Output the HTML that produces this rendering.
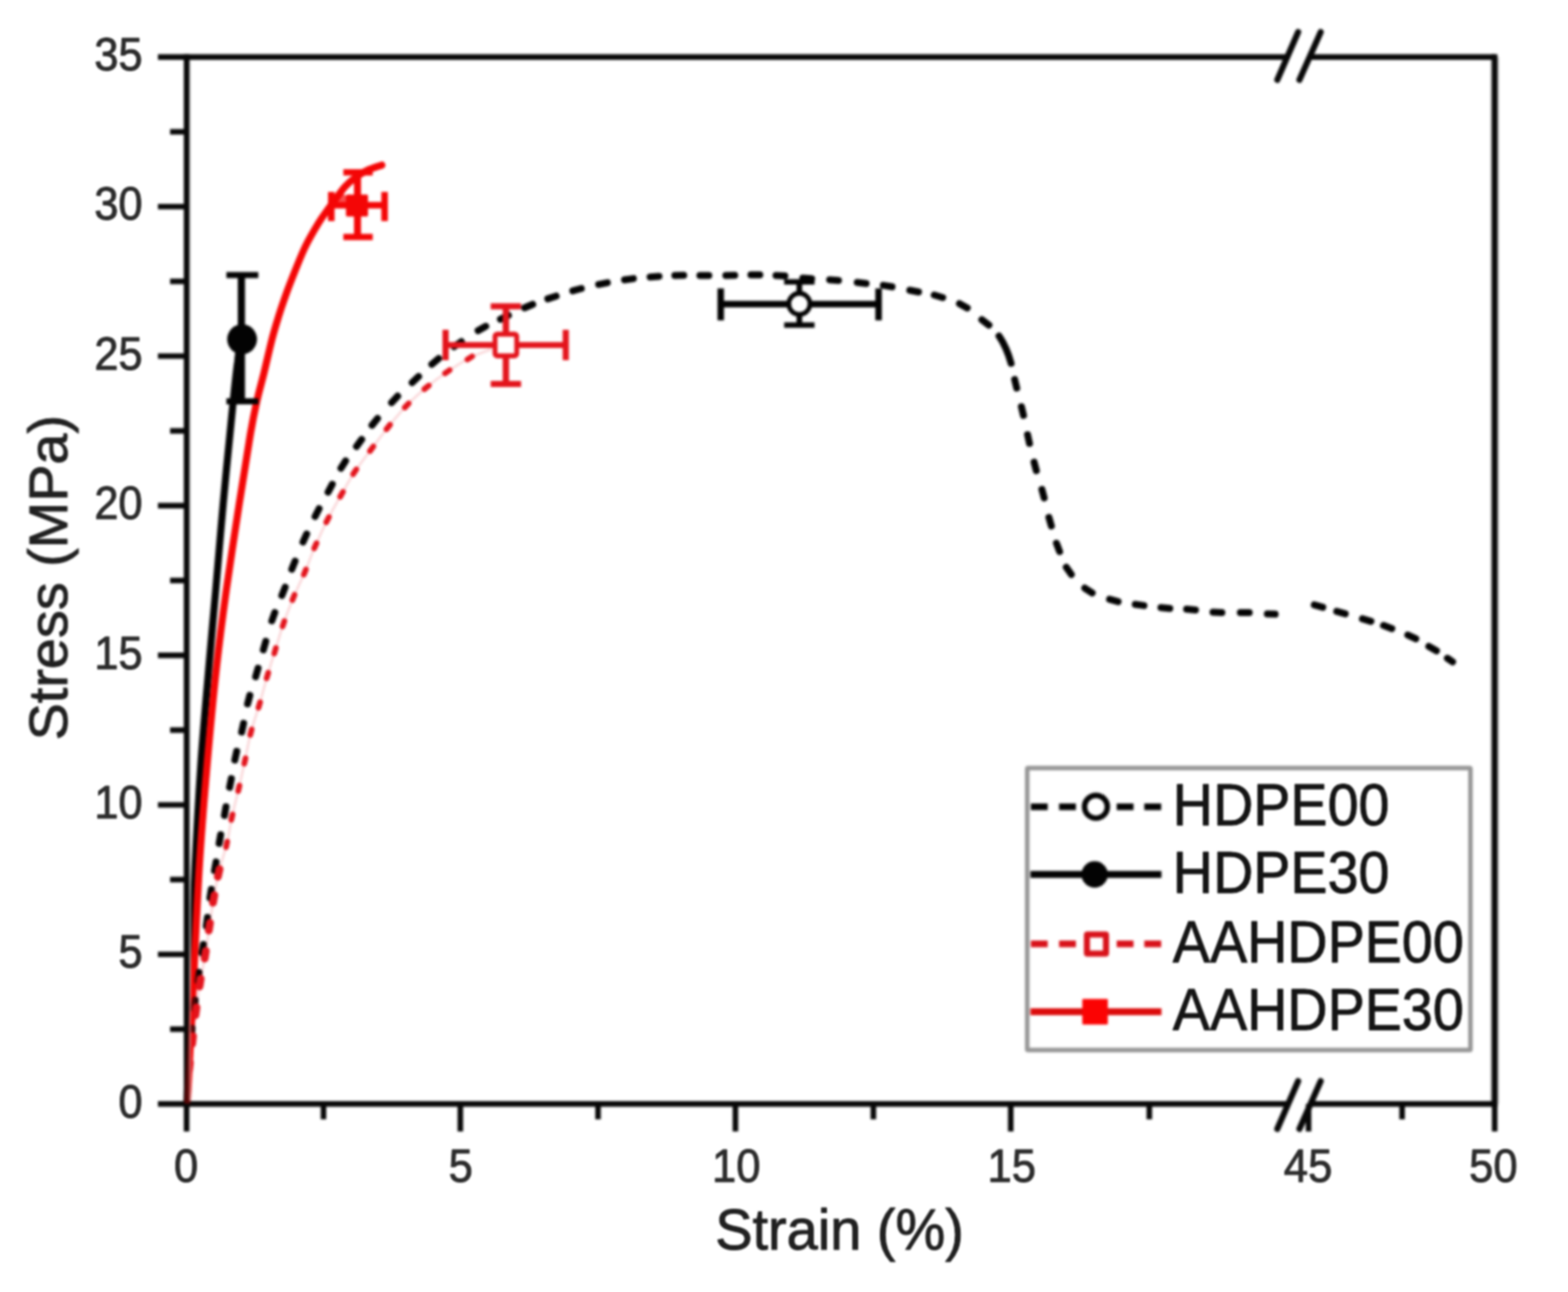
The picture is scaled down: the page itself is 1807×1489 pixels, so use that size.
<!DOCTYPE html>
<html lang="en">
<head>
<meta charset="utf-8">
<title>Stress–strain curves</title>
<style>
html, body { margin: 0; padding: 0; background: #ffffff; }
body { width: 1807px; height: 1489px; overflow: hidden; font-family: "Liberation Sans", Arial, sans-serif; }
svg { display: block; }
.soft { filter: blur(1.6px); }
.tx { filter: blur(1.0px); }
</style>
</head>
<body>
<svg width="1807" height="1489" viewBox="0 0 1807 1489" role="img" aria-label="Stress versus strain chart">
<g class="soft">
<rect x="0" y="0" width="1807" height="1489" fill="#ffffff"/>
<path d="M215.5,1272.0 C216.2,1251.7 218.0,1195.3 219.6,1150.0 C221.2,1104.7 222.8,1044.7 224.8,1000.0 C226.8,955.3 228.8,920.3 231.4,882.0 C234.0,843.7 237.8,803.4 240.6,770.0 C243.4,736.6 245.7,713.0 248.5,681.5 C251.3,650.0 254.1,614.3 257.2,580.7 C260.3,547.1 264.3,506.8 267.0,480.0 C269.7,453.2 271.5,434.8 273.5,420.0 C275.5,405.2 278.1,395.8 279.0,391.0" stroke="#030303" stroke-width="8.2" fill="none" stroke-linecap="round"/>
<path d="M215.8,1272.0 C217.0,1249.2 220.5,1180.3 222.8,1135.0 C225.1,1089.7 227.0,1042.2 229.6,1000.0 C232.2,957.8 235.3,920.3 238.6,882.0 C241.9,843.7 245.7,803.4 249.4,770.0 C253.1,736.6 256.2,713.0 260.6,681.5 C265.0,650.0 271.0,611.0 275.7,580.7 C280.4,550.5 285.2,519.7 288.6,500.0 C292.0,480.3 293.4,474.1 296.0,462.4 C298.6,450.6 301.4,441.4 304.3,429.5 C307.2,417.6 310.6,402.1 313.4,391.2 C316.2,380.3 318.4,373.3 321.2,364.3 C324.0,355.3 327.1,346.3 330.3,337.4 C333.6,328.4 337.1,319.6 340.7,310.6 C344.3,301.7 347.7,292.6 352.1,283.7 C356.5,274.8 362.8,264.1 367.2,256.9 C371.6,249.7 375.1,245.3 378.4,240.7 C381.7,236.0 383.7,233.3 387.0,229.0 C390.3,224.7 394.3,218.8 398.0,214.8 C401.7,210.8 405.3,207.8 409.4,204.8 C413.5,201.8 417.5,199.0 422.6,196.6 C427.7,194.2 437.1,191.4 440.0,190.3" stroke="#f40606" stroke-width="8.2" fill="none" stroke-linecap="round"/>
<g stroke="#030303" stroke-width="8.0" stroke-linecap="round" fill="none"><line x1="220.4" y1="1195.1" x2="221.4" y2="1184.9"/><line x1="223.8" y1="1162.8" x2="225.0" y2="1152.6"/><line x1="228.0" y1="1130.6" x2="229.4" y2="1120.6"/><line x1="232.8" y1="1098.5" x2="234.4" y2="1088.5"/><line x1="237.7" y1="1067.3" x2="239.1" y2="1057.3"/><line x1="241.9" y1="1035.0" x2="243.5" y2="1025.0"/><line x1="247.2" y1="1003.4" x2="249.0" y2="993.4"/><line x1="252.5" y1="972.0" x2="254.3" y2="962.0"/><line x1="258.6" y1="939.7" x2="260.4" y2="929.7"/><line x1="264.6" y1="907.4" x2="266.6" y2="897.4"/><line x1="270.6" y1="875.9" x2="272.8" y2="865.9"/><line x1="278.5" y1="843.6" x2="280.7" y2="833.6"/><line x1="285.3" y1="811.2" x2="287.9" y2="801.4"/><line x1="294.6" y1="779.9" x2="297.4" y2="770.1"/><line x1="303.5" y1="748.9" x2="306.3" y2="739.1"/><line x1="313.3" y1="715.5" x2="316.7" y2="705.9"/><line x1="324.8" y1="686.3" x2="328.6" y2="676.7"/><line x1="336.3" y1="656.0" x2="340.1" y2="646.6"/><line x1="349.2" y1="624.7" x2="353.4" y2="615.3"/><line x1="363.1" y1="595.3" x2="367.7" y2="586.3"/><line x1="378.1" y1="567.1" x2="382.9" y2="558.1"/><line x1="392.9" y1="539.7" x2="398.3" y2="531.1"/><line x1="410.8" y1="514.6" x2="416.8" y2="506.4"/><line x1="428.7" y1="490.1" x2="435.1" y2="482.3"/><line x1="451.3" y1="464.0" x2="458.3" y2="456.6"/><line x1="475.0" y1="440.9" x2="482.4" y2="433.9"/><line x1="497.7" y1="419.8" x2="505.5" y2="413.2"/><line x1="523.3" y1="399.5" x2="531.7" y2="393.7"/><line x1="551.0" y1="381.1" x2="559.8" y2="376.1"/><line x1="576.7" y1="367.9" x2="585.9" y2="363.5"/><line x1="604.5" y1="354.7" x2="613.9" y2="350.7"/><line x1="631.3" y1="344.4" x2="640.9" y2="341.2"/><line x1="660.1" y1="335.1" x2="669.9" y2="332.5"/><line x1="689.9" y1="327.8" x2="699.9" y2="325.8"/><line x1="719.7" y1="322.5" x2="729.9" y2="321.1"/><line x1="749.2" y1="319.2" x2="759.4" y2="318.4"/><line x1="777.7" y1="317.5" x2="787.9" y2="317.3"/><line x1="806.6" y1="317.4" x2="816.8" y2="317.4"/><line x1="836.5" y1="317.5" x2="846.7" y2="317.3"/><line x1="865.4" y1="316.8" x2="875.6" y2="316.8"/><line x1="894.3" y1="317.5" x2="904.5" y2="318.1"/><line x1="925.2" y1="320.4" x2="935.4" y2="321.2"/><line x1="956.1" y1="322.4" x2="966.3" y2="323.2"/><line x1="987.9" y1="325.5" x2="998.1" y2="326.7"/><line x1="1018.0" y1="328.9" x2="1028.0" y2="330.5"/><line x1="1048.5" y1="334.5" x2="1058.5" y2="336.5"/><line x1="1076.6" y1="340.0" x2="1086.4" y2="343.0"/><line x1="1105.7" y1="349.9" x2="1114.7" y2="354.9"/><line x1="1131.5" y1="368.5" x2="1139.7" y2="374.7"/></g>
<path d="M1151.3,387.3 Q1160,400 1165.2,418.7" stroke="#030303" stroke-width="8.0" stroke-linecap="round" fill="none"/>
<g stroke="#030303" stroke-width="8.0" stroke-linecap="round" fill="none"><line x1="1169.3" y1="437.4" x2="1171.7" y2="447.2"/><line x1="1177.1" y1="468.7" x2="1179.5" y2="478.7"/><line x1="1184.2" y1="501.0" x2="1186.4" y2="511.0"/><line x1="1191.7" y1="532.6" x2="1194.3" y2="542.4"/><line x1="1200.7" y1="564.0" x2="1203.3" y2="573.8"/><line x1="1208.8" y1="596.3" x2="1211.6" y2="606.1"/><line x1="1217.5" y1="626.1" x2="1221.1" y2="635.7"/><line x1="1228.8" y1="653.7" x2="1234.6" y2="662.1"/><line x1="1250.1" y1="677.8" x2="1258.7" y2="683.4"/><line x1="1278.7" y1="690.6" x2="1288.5" y2="693.4"/><line x1="1308.3" y1="696.5" x2="1318.3" y2="697.9"/><line x1="1337.9" y1="700.2" x2="1348.1" y2="701.2"/><line x1="1367.5" y1="702.1" x2="1377.7" y2="702.9"/><line x1="1397.9" y1="705.5" x2="1408.1" y2="706.1"/><line x1="1429.4" y1="706.0" x2="1439.6" y2="706.0"/></g>
<line x1="1460.5" y1="707.6" x2="1469.5" y2="707.8" stroke="#030303" stroke-width="8.0" stroke-linecap="round"/>
<g stroke="#030303" stroke-width="8.0" stroke-linecap="round" fill="none"><line x1="1514.6" y1="697.1" x2="1524.4" y2="699.9"/><line x1="1540.5" y1="704.6" x2="1550.3" y2="707.4"/><line x1="1570.1" y1="713.1" x2="1579.9" y2="716.1"/><line x1="1594.4" y1="720.8" x2="1604.0" y2="724.4"/><line x1="1622.4" y1="731.8" x2="1631.6" y2="736.2"/><line x1="1646.6" y1="745.0" x2="1655.4" y2="750.0"/></g>
<line x1="1668" y1="758.6" x2="1674" y2="762.8" stroke="#030303" stroke-width="8.0" stroke-linecap="round"/>
<path d="M218.3,1229.0 C218.9,1223.9 220.7,1209.2 221.9,1198.6 C223.2,1188.0 224.4,1176.5 225.8,1165.5 C227.2,1154.5 228.8,1143.3 230.6,1132.4 C232.4,1121.5 234.7,1111.0 236.5,1100.3 C238.3,1089.6 239.7,1078.7 241.3,1068.0 C242.9,1057.3 244.4,1046.3 246.2,1036.0 C248.0,1025.7 249.5,1016.5 252.0,1006.0 C254.5,995.5 258.6,983.8 261.2,973.1 C263.8,962.4 265.0,952.5 267.3,941.7 C269.6,930.9 272.7,919.3 275.2,908.5 C277.7,897.7 279.9,887.8 282.2,877.0 C284.5,866.2 286.4,854.6 289.2,843.8 C292.0,833.0 295.6,823.3 298.8,812.4 C302.0,801.5 305.2,789.0 308.2,778.6 C311.2,768.2 313.9,760.0 317.0,750.0 C320.1,740.0 323.2,729.0 326.7,718.8 C330.2,708.5 334.1,698.4 338.2,688.5 C342.3,678.6 347.1,669.2 351.3,659.3 C355.5,649.4 359.0,639.1 363.4,629.0 C367.8,618.9 372.5,608.8 377.5,598.9 C382.5,589.0 388.4,578.9 393.6,569.7 C398.8,560.5 403.0,552.5 408.8,543.7 C414.6,535.0 421.9,525.8 428.3,517.2 C434.7,508.6 440.7,500.4 447.4,492.1 C454.1,483.8 461.3,474.9 468.7,467.3 C476.1,459.7 483.8,452.9 491.6,446.4 C499.4,439.9 507.2,434.0 515.5,428.4 C523.8,422.8 533.0,416.8 541.4,412.5 C549.8,408.2 561.9,404.2 566.0,402.5" stroke="#e3141c" stroke-opacity="0.16" stroke-width="3" fill="none"/>
<g stroke="#e3141c" stroke-width="6.6" stroke-linecap="round" fill="none"><line x1="260.6" y1="976.2" x2="261.8" y2="970.0"/><line x1="266.6" y1="944.8" x2="268.0" y2="938.6"/><line x1="274.5" y1="911.6" x2="275.9" y2="905.4"/><line x1="281.5" y1="880.1" x2="282.9" y2="873.9"/><line x1="288.4" y1="846.9" x2="290.0" y2="840.7"/><line x1="297.9" y1="815.5" x2="299.7" y2="809.3"/><line x1="307.3" y1="781.7" x2="309.1" y2="775.5"/><line x1="316.1" y1="753.1" x2="317.9" y2="746.9"/><line x1="325.7" y1="721.8" x2="327.7" y2="715.8"/><line x1="337.0" y1="691.5" x2="339.4" y2="685.5"/><line x1="350.1" y1="662.2" x2="352.5" y2="656.4"/><line x1="362.1" y1="631.9" x2="364.7" y2="626.1"/><line x1="376.0" y1="601.8" x2="379.0" y2="596.0"/><line x1="392.0" y1="572.5" x2="395.2" y2="566.9"/><line x1="407.0" y1="546.4" x2="410.6" y2="541.0"/><line x1="426.4" y1="519.8" x2="430.2" y2="514.6"/><line x1="445.4" y1="494.6" x2="449.4" y2="489.6"/><line x1="466.5" y1="469.6" x2="470.9" y2="465.0"/><line x1="489.1" y1="448.4" x2="494.1" y2="444.4"/><line x1="512.9" y1="430.2" x2="518.1" y2="426.6"/><line x1="538.7" y1="414.2" x2="544.1" y2="410.8"/></g>
<g stroke="#e3141c" stroke-width="9.0" stroke-linecap="round" fill="none"><line x1="217.8" y1="1233.5" x2="218.8" y2="1224.5"/><line x1="221.4" y1="1203.1" x2="222.4" y2="1194.1"/><line x1="225.2" y1="1170.0" x2="226.4" y2="1161.0"/><line x1="229.9" y1="1136.8" x2="231.3" y2="1128.0"/><line x1="235.8" y1="1104.7" x2="237.2" y2="1095.9"/><line x1="240.6" y1="1072.4" x2="242.0" y2="1063.6"/><line x1="245.4" y1="1040.4" x2="247.0" y2="1031.6"/><line x1="251.0" y1="1010.4" x2="253.0" y2="1001.6"/></g>
<path d="M266.5,464 L281.5,464 L281.5,405 L271,405 Z" fill="#030303"/>
<line x1="278.2" y1="317.0" x2="278.2" y2="462.5" stroke="#030303" stroke-width="8.299999999999999" stroke-linecap="butt"/><line x1="260.90000000000003" y1="317.0" x2="297.7" y2="317.0" stroke="#030303" stroke-width="6.9" stroke-linecap="butt"/><line x1="260.90000000000003" y1="462.5" x2="297.7" y2="462.5" stroke="#030303" stroke-width="6.9" stroke-linecap="butt"/>
<circle cx="279" cy="391" r="17.2" fill="#030303"/>
<path d="M384,234 L399,234 L399,226 L393,221 L384,229 Z" fill="#f40606" fill-opacity="0.7"/>
<line x1="381.8" y1="236.6" x2="443.2" y2="236.6" stroke="#f40606" stroke-width="7.5" stroke-linecap="butt"/><line x1="381.8" y1="221.2" x2="381.8" y2="254.8" stroke="#f40606" stroke-width="7.5" stroke-linecap="butt"/><line x1="443.2" y1="221.2" x2="443.2" y2="254.8" stroke="#f40606" stroke-width="7.5" stroke-linecap="butt"/>
<line x1="412.0" y1="198.6" x2="412.0" y2="273.2" stroke="#f40606" stroke-width="8.1" stroke-linecap="butt"/><line x1="395.70000000000005" y1="198.6" x2="429.5" y2="198.6" stroke="#f40606" stroke-width="7.3" stroke-linecap="butt"/><line x1="395.70000000000005" y1="273.2" x2="429.5" y2="273.2" stroke="#f40606" stroke-width="7.3" stroke-linecap="butt"/>
<rect x="398.7" y="224.2" width="25.4" height="25.4" rx="1.5" fill="#f40606"/>
<line x1="513.5" y1="397.6" x2="652" y2="397.6" stroke="#e3141c" stroke-width="6.9" stroke-linecap="butt"/><line x1="513.5" y1="380.1" x2="513.5" y2="415.1" stroke="#e3141c" stroke-width="7.1000000000000005" stroke-linecap="butt"/><line x1="652" y1="380.1" x2="652" y2="415.1" stroke="#e3141c" stroke-width="7.1000000000000005" stroke-linecap="butt"/>
<line x1="583" y1="353" x2="583" y2="442.5" stroke="#e3141c" stroke-width="7.3" stroke-linecap="butt"/><line x1="565.5" y1="353" x2="600.5" y2="353" stroke="#e3141c" stroke-width="6.9" stroke-linecap="butt"/><line x1="565.5" y1="442.5" x2="600.5" y2="442.5" stroke="#e3141c" stroke-width="6.9" stroke-linecap="butt"/>
<rect x="570.5" y="385.1" width="25" height="25" rx="2.5" fill="#ffffff" stroke="#e3141c" stroke-width="5.6"/>
<line x1="830.6" y1="350.4" x2="1012.5" y2="350.4" stroke="#030303" stroke-width="7.5" stroke-linecap="butt"/><line x1="830.6" y1="332.40000000000003" x2="830.6" y2="369.2" stroke="#030303" stroke-width="7.5" stroke-linecap="butt"/><line x1="1012.5" y1="332.40000000000003" x2="1012.5" y2="369.2" stroke="#030303" stroke-width="7.5" stroke-linecap="butt"/>
<line x1="921.2" y1="324.9" x2="921.2" y2="374.6" stroke="#030303" stroke-width="6.5" stroke-linecap="butt"/><line x1="903.7" y1="324.9" x2="938.7" y2="324.9" stroke="#030303" stroke-width="6.3" stroke-linecap="butt"/><line x1="903.7" y1="374.6" x2="938.7" y2="374.6" stroke="#030303" stroke-width="6.3" stroke-linecap="butt"/>
<circle cx="921.2" cy="350.2" r="12.2" fill="#ffffff" stroke="#030303" stroke-width="5.4"/>
<line x1="1722.5" y1="65.7" x2="1722.5" y2="1272.3" stroke="#b8b8b8" stroke-width="9.6"/>
<line x1="217.2" y1="65.7" x2="217.2" y2="1272.3" stroke="#d0d0d0" stroke-width="5"/>
<g stroke="#080808" stroke-width="6.4" fill="none" stroke-linecap="butt">
<line x1="215.0" y1="62.5" x2="215.0" y2="1275.5"/>
<line x1="1722.5" y1="62.5" x2="1722.5" y2="1275.5"/>
<line x1="215.0" y1="65.7" x2="1483" y2="65.7"/>
<line x1="1509" y1="65.7" x2="1722.5" y2="65.7"/>
<line x1="215.0" y1="1272.3" x2="1483" y2="1272.3"/>
<line x1="1509" y1="1272.3" x2="1722.5" y2="1272.3"/>
<line x1="182" y1="1272.3" x2="215.0" y2="1272.3"/>
<line x1="196" y1="1186.1" x2="215.0" y2="1186.1"/>
<line x1="182" y1="1099.9" x2="215.0" y2="1099.9"/>
<line x1="196" y1="1013.7" x2="215.0" y2="1013.7"/>
<line x1="182" y1="927.6" x2="215.0" y2="927.6"/>
<line x1="196" y1="841.4" x2="215.0" y2="841.4"/>
<line x1="182" y1="755.2" x2="215.0" y2="755.2"/>
<line x1="196" y1="669.0" x2="215.0" y2="669.0"/>
<line x1="182" y1="582.8" x2="215.0" y2="582.8"/>
<line x1="196" y1="496.6" x2="215.0" y2="496.6"/>
<line x1="182" y1="410.4" x2="215.0" y2="410.4"/>
<line x1="196" y1="324.3" x2="215.0" y2="324.3"/>
<line x1="182" y1="238.1" x2="215.0" y2="238.1"/>
<line x1="196" y1="151.9" x2="215.0" y2="151.9"/>
<line x1="182" y1="65.7" x2="215.0" y2="65.7"/>
<line x1="215" y1="1272.3" x2="215" y2="1304"/>
<line x1="530.5" y1="1272.3" x2="530.5" y2="1304"/>
<line x1="847.5" y1="1272.3" x2="847.5" y2="1304"/>
<line x1="1164.8" y1="1272.3" x2="1164.8" y2="1304"/>
<line x1="1508" y1="1272.3" x2="1508" y2="1304"/>
<line x1="1722.5" y1="1272.3" x2="1722.5" y2="1304"/>
<line x1="372.8" y1="1272.3" x2="372.8" y2="1290"/>
<line x1="689.2" y1="1272.3" x2="689.2" y2="1290"/>
<line x1="1006.5" y1="1272.3" x2="1006.5" y2="1290"/>
<line x1="1324.5" y1="1272.3" x2="1324.5" y2="1290"/>
<line x1="1615.8" y1="1272.3" x2="1615.8" y2="1290"/>
</g>
<g stroke="#080808" stroke-width="7" stroke-linecap="round">
<line x1="1472" y1="92" x2="1496" y2="37"/>
<line x1="1497.5" y1="92" x2="1522" y2="37"/>
<line x1="1472" y1="1301" x2="1496" y2="1246"/>
<line x1="1497.5" y1="1301" x2="1522" y2="1246"/>
</g>
<path d="M215.8,1272.0 C217.0,1249.2 220.5,1180.3 222.8,1135.0 C225.1,1089.7 227.0,1042.2 229.6,1000.0 C232.2,957.8 237.1,901.7 238.6,882.0" stroke="#f40606" stroke-opacity="0.33" stroke-width="7" fill="none" stroke-linecap="butt"/>
<rect x="1183.8" y="885.2" width="510.8" height="325" rx="1" fill="#ffffff" stroke="#969696" stroke-width="5.2"/>
<line x1="1188.0" y1="929.8" x2="1207.4" y2="929.8" stroke="#030303" stroke-width="7.7" stroke-linecap="butt"/>
<line x1="1220.5" y1="929.8" x2="1239.9" y2="929.8" stroke="#030303" stroke-width="7.7" stroke-linecap="butt"/>
<line x1="1286.9" y1="929.8" x2="1306.3" y2="929.8" stroke="#030303" stroke-width="7.7" stroke-linecap="butt"/>
<line x1="1318.7" y1="929.8" x2="1338.2" y2="929.8" stroke="#030303" stroke-width="7.7" stroke-linecap="butt"/>
<circle cx="1263" cy="929.8" r="13.2" fill="#ffffff" stroke="#030303" stroke-width="6.2"/>
<line x1="1187.5" y1="1007.8" x2="1338.5" y2="1007.8" stroke="#030303" stroke-width="7.9" stroke-linecap="butt"/>
<circle cx="1261.5" cy="1007.8" r="15.2" fill="#030303"/>
<line x1="1188.0" y1="1087.8" x2="1207.4" y2="1087.8" stroke="#d8121a" stroke-width="7.7" stroke-linecap="butt"/>
<line x1="1220.5" y1="1087.8" x2="1239.9" y2="1087.8" stroke="#d8121a" stroke-width="7.7" stroke-linecap="butt"/>
<line x1="1286.9" y1="1087.8" x2="1306.3" y2="1087.8" stroke="#d8121a" stroke-width="7.7" stroke-linecap="butt"/>
<line x1="1318.7" y1="1087.8" x2="1338.2" y2="1087.8" stroke="#d8121a" stroke-width="7.7" stroke-linecap="butt"/>
<rect x="1252.6" y="1077.1" width="22" height="22" rx="0.6" fill="#ffffff" stroke="#d8121a" stroke-width="7"/>
<line x1="1187.5" y1="1166.0" x2="1338.5" y2="1166.0" stroke="#dc0c0c" stroke-width="8.1" stroke-linecap="butt"/>
<rect x="1247.3" y="1151.3" width="29.4" height="29.4" rx="1" fill="#fb0303"/>
</g>
<g font-family="'Liberation Sans', Arial, sans-serif" font-size="51.5" class="tx" fill="#2c2c2c" stroke="#2c2c2c" stroke-width="1.0" stroke-linejoin="round">
<text transform="translate(164.3,1287.6) scale(0.97,1.035)" text-anchor="end">0</text>
<text transform="translate(164.3,1115.2) scale(0.97,1.035)" text-anchor="end">5</text>
<text transform="translate(164.3,942.9) scale(0.97,1.035)" text-anchor="end">10</text>
<text transform="translate(164.3,770.5) scale(0.97,1.035)" text-anchor="end">15</text>
<text transform="translate(164.3,598.1) scale(0.97,1.035)" text-anchor="end">20</text>
<text transform="translate(164.3,425.7) scale(0.97,1.035)" text-anchor="end">25</text>
<text transform="translate(164.3,253.4) scale(0.97,1.035)" text-anchor="end">30</text>
<text transform="translate(164.3,81.0) scale(0.97,1.035)" text-anchor="end">35</text>
<text transform="translate(214.5,1362.4) scale(0.975,1.035)" text-anchor="middle">0</text>
<text transform="translate(531.0,1362.4) scale(0.975,1.035)" text-anchor="middle">5</text>
<text transform="translate(848.5,1362.4) scale(0.975,1.035)" text-anchor="middle">10</text>
<text transform="translate(1166.0,1362.4) scale(0.975,1.035)" text-anchor="middle">15</text>
<text transform="translate(1507.5,1362.4) scale(0.975,1.035)" text-anchor="middle">45</text>
<text transform="translate(1721.0,1362.4) scale(0.975,1.035)" text-anchor="middle">50</text>
</g>
<g font-family="'Liberation Sans', Arial, sans-serif" font-size="64.5" class="tx" fill="#202020" stroke="#202020" stroke-width="1.0" stroke-linejoin="round">
<text transform="translate(967.5,1440.0) scale(1.0,1.02)" text-anchor="middle">Strain (%)</text>
<text transform="translate(77.4,665.8) rotate(-90) scale(0.997,0.985)" text-anchor="middle">Stress (MPa)</text>
</g>
<g font-family="'Liberation Sans', Arial, sans-serif" font-size="64.5" class="tx" fill="#141414" stroke="#141414" stroke-width="0.9" stroke-linejoin="round">
<text transform="translate(1351.6,951.2) scale(0.995,1.065)" text-anchor="start">HDPE00</text>
<text transform="translate(1351.6,1029.2) scale(0.995,1.065)" text-anchor="start">HDPE30</text>
<text transform="translate(1351.6,1109.2) scale(0.995,1.065)" text-anchor="start">AAHDPE00</text>
<text transform="translate(1351.6,1187.4) scale(0.995,1.065)" text-anchor="start">AAHDPE30</text>
</g>
</svg>
</body>
</html>
